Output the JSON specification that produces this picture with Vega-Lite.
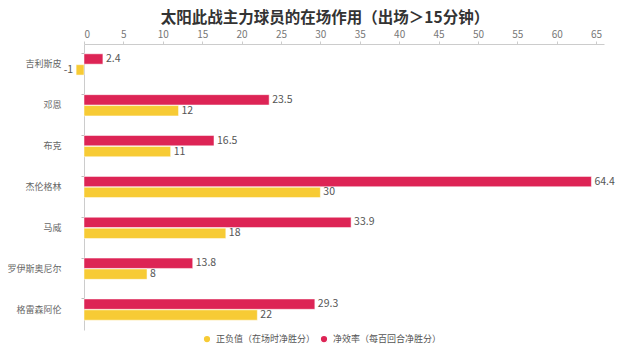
{
  "$schema": "https://vega.github.io/schema/vega-lite/v6.json",
  "width": 520,
  "height": 286,
  "autosize": "none",
  "padding": {"left": 84, "top": 44, "right": 36, "bottom": 27},
  "background": "white",
  "title": {"text": "太阳此战主力球员的在场作用（出场＞15分钟）", "font": "Noto Sans CJK SC", "fontSize": 15.5, "fontWeight": "bold", "color": "#333333", "anchor": "middle", "offset": 3, "dx": -19},
  "config": {
    "font": "Noto Sans CJK SC",
    "view": {"stroke": null},
    "axis": {"labelFont": "Noto Sans CJK SC", "labelColor": "#666666", "domainColor": "#cccccc", "tickColor": "#cccccc"}
  },
  "data": {"values": [
    {"player": "吉利斯皮", "series": "净效率（每百回合净胜分）", "value": 2.4},
    {"player": "吉利斯皮", "series": "正负值（在场时净胜分）", "value": -1},
    {"player": "邓恩", "series": "净效率（每百回合净胜分）", "value": 23.5},
    {"player": "邓恩", "series": "正负值（在场时净胜分）", "value": 12},
    {"player": "布克", "series": "净效率（每百回合净胜分）", "value": 16.5},
    {"player": "布克", "series": "正负值（在场时净胜分）", "value": 11},
    {"player": "杰伦格林", "series": "净效率（每百回合净胜分）", "value": 64.4},
    {"player": "杰伦格林", "series": "正负值（在场时净胜分）", "value": 30},
    {"player": "马威", "series": "净效率（每百回合净胜分）", "value": 33.9},
    {"player": "马威", "series": "正负值（在场时净胜分）", "value": 18},
    {"player": "罗伊斯奥尼尔", "series": "净效率（每百回合净胜分）", "value": 13.8},
    {"player": "罗伊斯奥尼尔", "series": "正负值（在场时净胜分）", "value": 8},
    {"player": "格雷森阿伦", "series": "净效率（每百回合净胜分）", "value": 29.3},
    {"player": "格雷森阿伦", "series": "正负值（在场时净胜分）", "value": 22}
  ]},
  "encoding": {
    "y": {"field": "player", "type": "nominal", "sort": null, "title": null,
          "scale": {"paddingInner": 0.48, "paddingOuter": 0.24},
          "axis": {"orient": "left", "bandPosition": 0, "ticks": true, "tickSize": 3, "labelFontSize": 9, "labelPadding": 20, "domainColor": "#cccccc", "tickColor": "#bbbbbb"}},
    "yOffset": {"field": "series", "type": "nominal", "sort": ["净效率（每百回合净胜分）", "正负值（在场时净胜分）"], "scale": {"paddingInner": 0.05}},
    "x": {"field": "value", "type": "quantitative", "title": null,
          "scale": {"domain": [0, 66], "nice": false, "zero": false},
          "axis": {"orient": "top", "values": [0,5,10,15,20,25,30,35,40,45,50,55,60,65], "grid": false, "labelFontSize": 10, "labelColor": "#777777", "tickSize": 3, "labelPadding": 2, "domainColor": "#cccccc"}}
  },
  "layer": [
    {
      "mark": {"type": "bar", "stroke": "white", "strokeWidth": 0.5},
      "encoding": {
        "color": {"field": "series", "type": "nominal",
                  "scale": {"domain": ["正负值（在场时净胜分）", "净效率（每百回合净胜分）"], "range": ["#f7cb35", "#dd2455"]},
                  "legend": {"orient": "none", "legendX": 118, "legendY": 290, "title": null, "symbolType": "circle", "symbolSize": 60, "labelFontSize": 9, "labelColor": "#555555", "columnPadding": 1, "direction": "horizontal"}}
      }
    },
    {
      "transform": [{"filter": "datum.value >= 0"}],
      "mark": {"type": "text", "align": "left", "dx": 3, "fontSize": 10.5, "color": "#555555"},
      "encoding": {"text": {"field": "value", "type": "nominal"}}
    },
    {
      "transform": [{"filter": "datum.value < 0"}],
      "mark": {"type": "text", "align": "right", "dx": -3, "fontSize": 10.5, "color": "#555555"},
      "encoding": {"text": {"field": "value", "type": "nominal"}}
    }
  ]
}
